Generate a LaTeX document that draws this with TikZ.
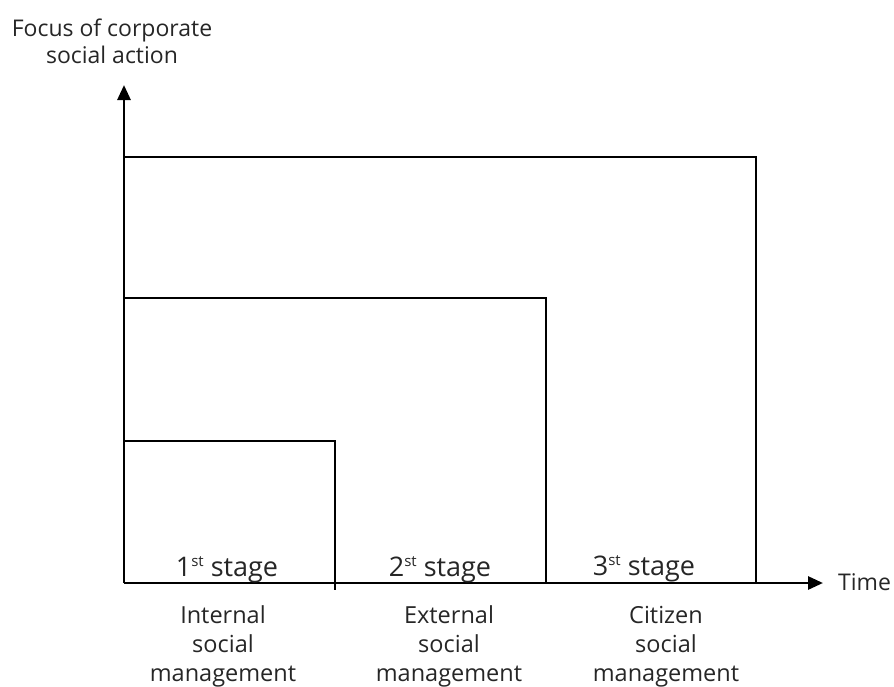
\documentclass[tikz,border=0pt]{standalone}
\usepackage{fontspec}
\setmainfont{Open Sans}
\usetikzlibrary{arrows.meta}
\newcommand{\stsup}{\raisebox{10pt}{\fontsize{15}{15}\selectfont st}}
\begin{document}
\begin{tikzpicture}[x=1pt,y=-1pt,
  line/.style={line width=2.8pt,line cap=rect,color=black},
  axis/.style={line width=2.8pt,-{Triangle[length=15pt,width=13pt]}},
  stagelbl/.style={anchor=base,inner sep=0pt,font=\fontsize{27}{30}\selectfont,text=black!85},
  desclbl/.style={anchor=base,inner sep=0pt,align=center,font=\fontsize{23.5}{29}\selectfont,text=black!85},
  titlelbl/.style={anchor=base,inner sep=0pt,align=center,font=\fontsize{23}{27}\selectfont,text=black!85}]
\useasboundingbox (0,0) rectangle (894,686);
\coordinate (O) at (124,583);
\coordinate (ytip) at (124,85);
\coordinate (xtip) at (823,583);
\coordinate (b1top) at (124,441);
\coordinate (b1end) at (335,589);
\coordinate (b2top) at (124,298);
\coordinate (b2end) at (546,583);
\coordinate (b3top) at (124,157);
\coordinate (b3end) at (756,583);
\draw[line] (b1top) -| (b1end);
\draw[line] (b2top) -| (b2end);
\draw[line] (b3top) -| (b3end);
\draw[axis] (O) -- (ytip);
\draw[axis] (O) -- (xtip);
\node[titlelbl] (title) at (112,63) {Focus of corporate\\social action};
\node[anchor=base west,inner sep=0pt,font=\fontsize{23}{27}\selectfont,text=black!85] (time) at (838,590) {Time};
\node[stagelbl] (s1) at (227,576) {1\stsup\ stage};
\node[stagelbl] (s2) at (440,576) {2\stsup\ stage};
\node[stagelbl] (s3) at (644,575) {3\stsup\ stage};
\node[desclbl] (d1) at (223,681) {Internal\\social\\management};
\node[desclbl] (d2) at (449,681) {External\\social\\management};
\node[desclbl] (d3) at (666,681) {Citizen\\social\\management};
\end{tikzpicture}
\end{document}
